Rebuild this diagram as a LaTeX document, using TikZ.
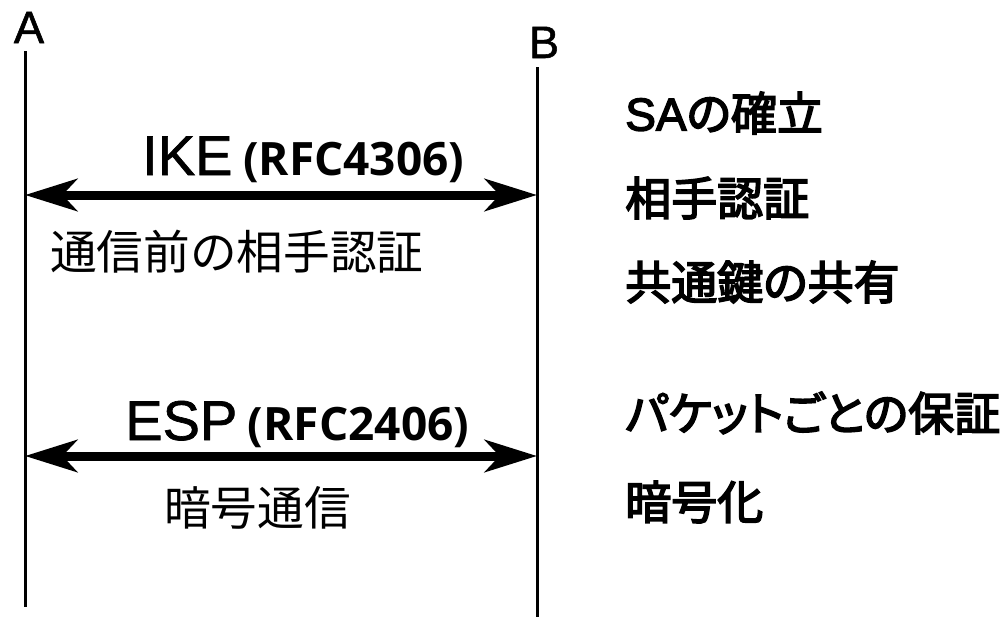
\documentclass[tikz,border=0pt]{standalone}
\usepackage{fontspec}
\setmainfont{Liberation Sans}[FakeBold=1.2]
\newfontfamily\latinrole{Liberation Sans}[FakeBold=3]
\newfontfamily\jpfont{Noto Sans CJK JP}
\newfontfamily\jpkana{Noto Sans CJK JP}[RawFeature=+palt,FakeBold=3.5]
\newfontfamily\rfcfont{Open Sans}
\usetikzlibrary{arrows.meta}

\begin{document}
\begin{tikzpicture}[x=0.75pt,y=0.75pt,yscale=-1,xscale=1,
    lifeline/.style={line width=2.25pt},
    msgarrow/.style={line width=6.75pt,{Stealth[length=39pt,width=24pt,inset=11pt]}-{Stealth[length=39pt,width=24pt,inset=11pt]}},
    peer/.style={font=\fontsize{34}{36}\selectfont,inner sep=0pt,anchor=base},
    proto/.style={font=\fontsize{42}{48}\selectfont,inner sep=0pt,anchor=base west},
    note/.style={font=\jpfont\fontsize{35}{40}\selectfont,inner sep=0pt,anchor=west},
    role/.style={font=\jpkana\fontsize{34.5}{40}\selectfont,inner sep=0pt,anchor=west}]
                \useasboundingbox (0,0) rectangle (1007,618);

                % Text Node
                \node [peer] (A) at (29,43) {A};
                % Text Node
                \node [peer] (B) at (544,58) {B};

                %Straight Lines
                \coordinate (a top) at (25,51);
                \coordinate (a bot) at (25,607);
                \draw [lifeline] (a top) -- (a bot);
                %Straight Lines
                \coordinate (b top) at (537,67);
                \coordinate (b bot) at (537,617);
                \draw [lifeline] (b top) -- (b bot);

                %Straight Lines
                \coordinate (ike a) at (25,195);
                \coordinate (ike b) at (537,195);
                \draw [msgarrow] (ike a) -- (ike b);
                %Straight Lines
                \coordinate (esp a) at (25,456);
                \coordinate (esp b) at (537,456);
                \draw [msgarrow] (esp a) -- (esp b);

                % Text Node
                \node [proto] (ike) at (142,175) {IKE\hspace{8pt}{\rfcfont\bfseries\fontsize{34.5}{40}\selectfont (RFC4306)}};
                % Text Node
                \node [note] (ike note) at (50,252) {通信前の相手認証};
                % Text Node
                \node [proto] (esp) at (125,440) {ESP\hspace{8pt}{\rfcfont\bfseries\fontsize{34.5}{40}\selectfont (RFC2406)}};
                % Text Node
                \node [note] (esp note) at (164,508) {暗号通信};

                % Text Node
                \node [role] (sa) at (625,113) {{\latinrole SA}の確立};
                % Text Node
                \node [role] (auth) at (625,198) {相手認証};
                % Text Node
                \node [role] (key) at (625,282) {共通鍵の共有};
                % Text Node
                \node [role] (pkt) at (625,413) {パケットごとの保証};
                % Text Node
                \node [role] (enc) at (625,502) {暗号化};

\end{tikzpicture}
\end{document}
